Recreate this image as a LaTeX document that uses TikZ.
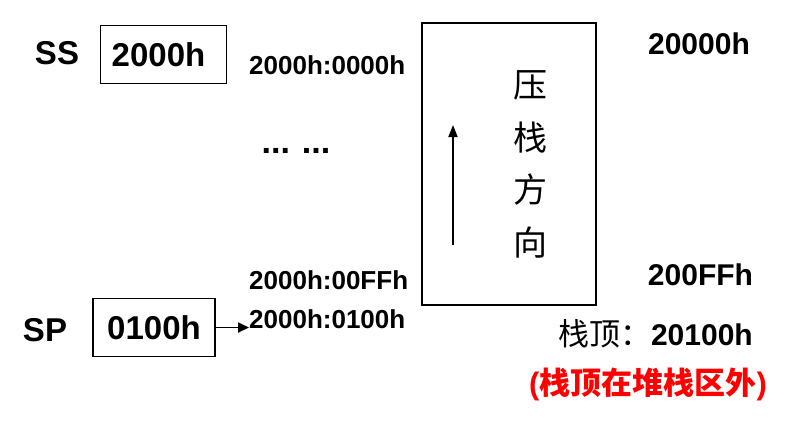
\documentclass[tikz,border=0pt]{standalone}
\usepackage{fontspec}
\setmainfont{Liberation Sans}
\newfontfamily\cjk{Noto Sans CJK SC}
\usetikzlibrary{arrows.meta}

\begin{document}
\begin{tikzpicture}[x=1pt, y=-1pt] %one unit = one pixel of the reference, y downwards
\tikzstyle{every node} = [inner sep=0pt]
\tikzstyle{big} = [font=\fontsize{33}{36}\selectfont\bfseries]
\tikzstyle{addr} = [font=\fontsize{26}{30}\selectfont\bfseries, anchor=west]
\tikzstyle{phys} = [font=\fontsize{30}{34}\selectfont\bfseries]
\tikzstyle{reg} = [big, draw, line width=1.8pt, minimum height=58pt]
\tikzstyle{vch} = [font=\fontsize{34}{36}\cjk]
\useasboundingbox (0,0) rectangle (786,423);
% segment register and stack pointer
\node[big] (ss) at (57,53.5) {SS};
\node[reg, minimum width=126pt] (ssbox) at (163.5,54.5) {2000h\hspace*{10pt}};
\node[big] (sp) at (45,330) {SP};
\node[reg, minimum width=122pt] (spbox) at (154,327.5) {0100h};
% logical addresses
\node[addr] (a0) at (249,65) {2000h:0000h};
\node[font=\fontsize{34}{36}\selectfont\bfseries] (dots) at (296,151) {...\hspace{12pt}...};
\node[addr] (aff) at (249,280.5) {2000h:00FFh};
\node[addr] (a100) at (249,319) {2000h:0100h};
\draw[-{Triangle[length=11pt, width=10pt]}, line width=1.8pt] (spbox.east) -- (spbox.east -| a100.west);
% stack area
\node[draw, line width=1.8pt, minimum width=174pt, minimum height=282pt] (stack) at (509,164) {};
\foreach \ch [count=\i] in {压,栈,方,向}
\node[vch] (v\i) at (530,{85+52.5*(\i-1)}) {\ch};
\coordinate (up0) at (453,245);
\coordinate (up1) at (453,125);
\draw[-{Triangle[length=12pt, width=9pt]}, line width=1.8pt] (up0) -- (up1);
% physical addresses
\node[phys] (p0) at (699,43.5) {20000h};
\node[phys] (pff) at (700.5,275) {200FFh};
\node[phys, anchor=base east] (top) at (753,345) {{\cjk\mdseries\fontsize{31}{34}\selectfont 栈顶：}20100h};
\node[font=\fontsize{31}{34}\selectfont\bfseries, text=red] (note) at (648,384) {({\cjk 栈顶在堆栈区外})};
\end{tikzpicture}
\end{document}
